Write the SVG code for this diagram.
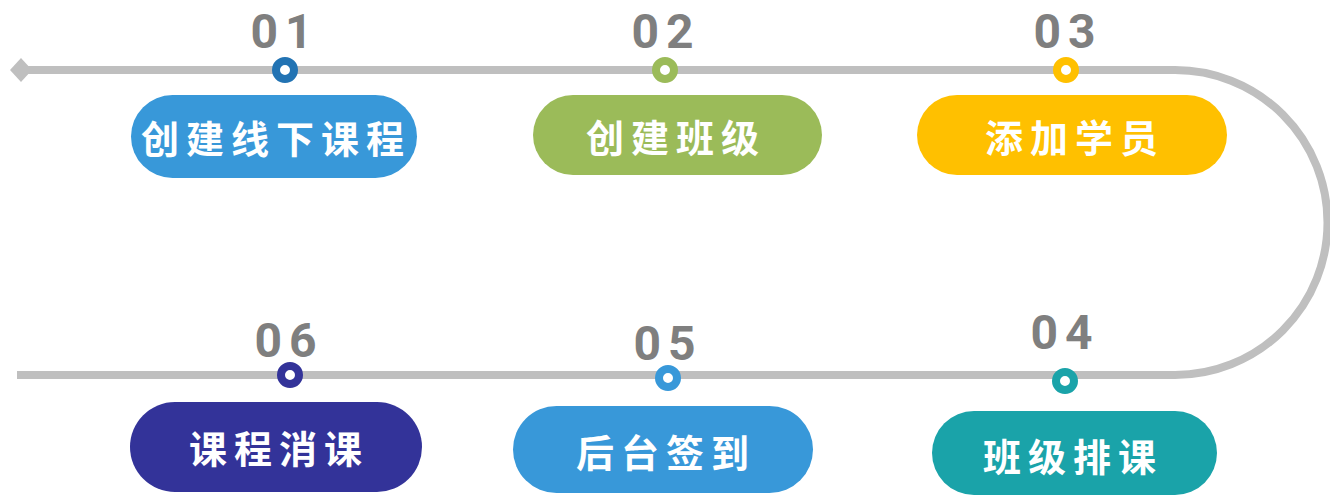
<svg xmlns="http://www.w3.org/2000/svg" width="1330" height="495" viewBox="0 0 1330 495">
<style>
.track{fill:none;stroke:#BFBFBF;stroke-width:8}
.num{font-family:Roboto,"Liberation Sans",sans-serif;font-weight:bold;font-size:48px;fill:#7F7F7F;letter-spacing:7px;text-anchor:middle}
.lbl{font-family:"Noto Sans CJK SC","Noto Sans",sans-serif;font-weight:bold;font-size:38px;fill:#FFFFFF;letter-spacing:7px;text-anchor:middle;dominant-baseline:central}
.dot{fill:#FFFFFF;stroke-width:8}
</style>
<rect width="1330" height="495" fill="#FFFFFF"/>
<g id="connectors">
<path class="track" d="M21,70 H1175 A152.5,152.5 0 0 1 1175,375 H17"/>
<path d="M10,70 L21,58 L32,70 L21,82 Z" fill="#BFBFBF"/>
</g>
<g id="step1">
<text class="num" x="285" y="48">01</text>
<circle class="dot" cx="285" cy="70" r="9" stroke="#2273B3"/>
<rect x="131" y="95" width="286" height="83" rx="41.5" fill="#3898D9"/>
<text class="lbl" x="276" y="136">创建线下课程</text>
</g>
<g id="step2">
<text class="num" x="666" y="48">02</text>
<circle class="dot" cx="665" cy="70" r="9" stroke="#9BBB59"/>
<rect x="533" y="95" width="289" height="80" rx="40" fill="#9BBB59"/>
<text class="lbl" x="676" y="135">创建班级</text>
</g>
<g id="step3">
<text class="num" x="1068" y="48">03</text>
<circle class="dot" cx="1066" cy="70" r="9" stroke="#FFC000"/>
<rect x="917" y="95" width="310" height="80" rx="40" fill="#FFC000"/>
<text class="lbl" x="1075" y="135">添加学员</text>
</g>
<g id="step4">
<text class="num" x="1065" y="349">04</text>
<circle class="dot" cx="1065" cy="381" r="9" stroke="#1AA3A9"/>
<rect x="932" y="411" width="285" height="84" rx="42" fill="#1AA3A9"/>
<text class="lbl" x="1073" y="454">班级排课</text>
</g>
<g id="step5">
<text class="num" x="668" y="360">05</text>
<circle class="dot" cx="668" cy="378" r="9" stroke="#3898D9"/>
<rect x="513" y="406" width="300" height="87" rx="43.5" fill="#3898D9"/>
<text class="lbl" x="666" y="450">后台签到</text>
</g>
<g id="step6">
<text class="num" x="289" y="357">06</text>
<circle class="dot" cx="290" cy="375" r="9" stroke="#333399"/>
<rect x="130" y="402" width="292" height="90" rx="45" fill="#333399"/>
<text class="lbl" x="279" y="446">课程消课</text>
</g>
</svg>
